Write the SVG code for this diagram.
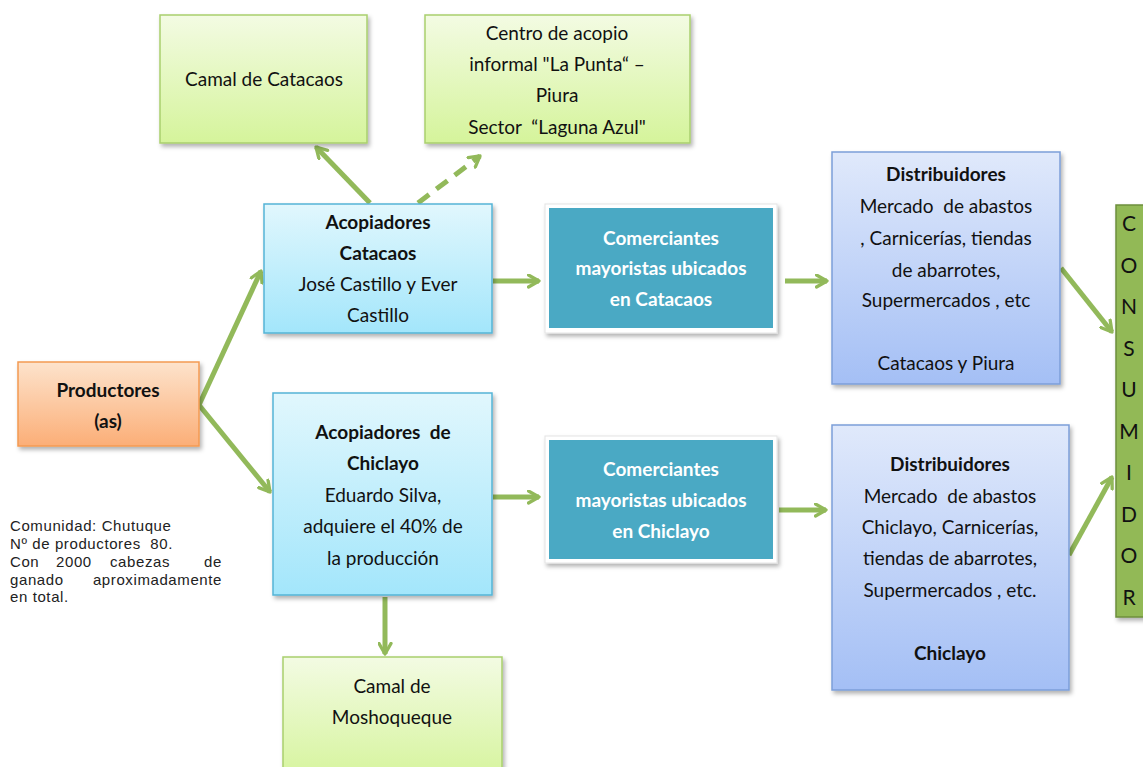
<svg xmlns="http://www.w3.org/2000/svg" width="1143" height="767" viewBox="0 0 1143 767">
<defs>
<linearGradient id="gGreen" x1="0" y1="0" x2="0" y2="1"><stop offset="0" stop-color="#f3fbe3"/><stop offset="1" stop-color="#d5f49b"/></linearGradient>
<linearGradient id="gBlue" x1="0" y1="0" x2="0" y2="1"><stop offset="0" stop-color="#e1f7fd"/><stop offset="1" stop-color="#a3e6fb"/></linearGradient>
<linearGradient id="gDist" x1="0" y1="0" x2="0" y2="1"><stop offset="0" stop-color="#e0e9fb"/><stop offset="1" stop-color="#a4bff5"/></linearGradient>
<linearGradient id="gOrange" x1="0" y1="0" x2="0" y2="1"><stop offset="0" stop-color="#fde3cc"/><stop offset="1" stop-color="#fbae77"/></linearGradient>
<filter id="sh" x="-10%" y="-10%" width="125%" height="125%"><feDropShadow dx="2" dy="3" stdDeviation="2" flood-color="#000" flood-opacity="0.3"/></filter>
<marker id="ah" viewBox="0 0 10 10" refX="8" refY="5" markerWidth="3" markerHeight="3" orient="auto" markerUnits="strokeWidth">
<path d="M1,1 L8,5 L1,9" fill="none" stroke="#92b95a" stroke-width="2.2" stroke-linecap="round" stroke-linejoin="round"/>
</marker>
</defs>
<style>
.t{font-family:Lato,"Open Sans",sans-serif;font-size:19px;fill:#111;text-anchor:middle;white-space:pre}
.b{font-weight:bold}
.w{fill:#fff;font-weight:bold}
.c{stroke:#92b95a;stroke-width:5;fill:none;marker-end:url(#ah)}
.grn{fill:url(#gGreen);stroke:#a9cf6e;stroke-width:1.5}
.blu{fill:url(#gBlue);stroke:#55b4d6;stroke-width:1.5}
.dst{fill:url(#gDist);stroke:#7c9ed9;stroke-width:1.5}
.org{fill:url(#gOrange);stroke:#f49a52;stroke-width:1.5}
.note{font-family:"Liberation Sans",Arial,sans-serif;font-size:15px;fill:#222;white-space:pre;letter-spacing:0.6px}
.r{text-anchor:end}
.cons{font-family:Lato,"Open Sans",sans-serif;font-size:21px;fill:#111;text-anchor:middle}
</style>

<g id="connectors">
<line class="c" x1="199" y1="405" x2="261" y2="271"/>
<line class="c" x1="199" y1="405" x2="270" y2="492"/>
<line class="c" x1="370" y1="203" x2="316" y2="147"/>
<line class="c" x1="418" y1="203" x2="480" y2="156" stroke-dasharray="14,9"/>
<line class="c" x1="493" y1="281" x2="539" y2="281"/>
<line class="c" x1="785" y1="281" x2="827" y2="281"/>
<line class="c" x1="493" y1="497" x2="539" y2="497"/>
<line class="c" x1="779" y1="510" x2="826" y2="510"/>
<line class="c" x1="385" y1="597" x2="385" y2="654"/>
<line class="c" x1="1061" y1="268" x2="1112" y2="332"/>
<line class="c" x1="1069" y1="555" x2="1112" y2="477"/>
</g>

<g id="camal-catacaos">
<rect class="grn" x="160" y="15" width="207" height="128" filter="url(#sh)"/>
<text class="t" x="264" y="86">Camal de Catacaos</text>
</g>

<g id="centro-acopio">
<rect class="grn" x="425" y="15" width="265" height="128" filter="url(#sh)"/>
<text class="t" x="557" y="40">Centro de acopio</text>
<text class="t" x="557" y="71">informal "La Punta“ –</text>
<text class="t" x="557" y="102">Piura</text>
<text class="t" x="557" y="134">Sector  “Laguna Azul"</text>
</g>

<g id="acopiadores-catacaos">
<rect class="blu" x="264" y="204" width="228" height="129" filter="url(#sh)"/>
<text class="t b" x="378" y="229">Acopiadores</text>
<text class="t b" x="378" y="260">Catacaos</text>
<text class="t" x="378" y="291">José Castillo y Ever</text>
<text class="t" x="378" y="322">Castillo</text>
</g>

<g id="comerciantes-catacaos">
<rect x="545" y="204" width="232" height="129" fill="#fff" stroke="#e4e4e4" filter="url(#sh)"/>
<rect x="549" y="208" width="224" height="120" fill="#4aa9c4"/>
<text class="t w" x="661" y="245">Comerciantes</text>
<text class="t w" x="661" y="275">mayoristas ubicados</text>
<text class="t w" x="661" y="306">en Catacaos</text>
</g>

<g id="distribuidores-catacaos">
<rect class="dst" x="832" y="152" width="228" height="232" filter="url(#sh)"/>
<text class="t b" x="946" y="181">Distribuidores</text>
<text class="t" x="946" y="213">Mercado  de abastos</text>
<text class="t" x="946" y="245">, Carnicerías, tiendas</text>
<text class="t" x="946" y="277">de abarrotes,</text>
<text class="t" x="946" y="307">Supermercados , etc</text>
<text class="t" x="946" y="370">Catacaos y Piura</text>
</g>

<g id="consumidor">
<rect x="1116" y="205" width="40" height="412" fill="#92b957" stroke="#6e8f3c" stroke-width="1.5" filter="url(#sh)"/>
<text class="cons" x="1129" y="231">C</text>
<text class="cons" x="1129" y="273">O</text>
<text class="cons" x="1129" y="314">N</text>
<text class="cons" x="1129" y="356">S</text>
<text class="cons" x="1129" y="397">U</text>
<text class="cons" x="1129" y="439">M</text>
<text class="cons" x="1129" y="480">I</text>
<text class="cons" x="1129" y="522">D</text>
<text class="cons" x="1129" y="563">O</text>
<text class="cons" x="1129" y="605">R</text>
</g>

<g id="productores">
<rect class="org" x="18" y="362" width="181" height="84" filter="url(#sh)"/>
<text class="t b" x="108" y="397">Productores</text>
<text class="t b" x="108" y="428">(as)</text>
</g>

<g id="acopiadores-chiclayo">
<rect class="blu" x="273" y="393" width="219" height="202" filter="url(#sh)"/>
<text class="t b" x="383" y="439">Acopiadores  de</text>
<text class="t b" x="383" y="470">Chiclayo</text>
<text class="t" x="383" y="502">Eduardo Silva,</text>
<text class="t" x="383" y="533">adquiere el 40% de</text>
<text class="t" x="383" y="565">la producción</text>
</g>

<g id="comerciantes-chiclayo">
<rect x="545" y="436" width="232" height="127" fill="#fff" stroke="#e4e4e4" filter="url(#sh)"/>
<rect x="549" y="440" width="224" height="119" fill="#4aa9c4"/>
<text class="t w" x="661" y="476">Comerciantes</text>
<text class="t w" x="661" y="507">mayoristas ubicados</text>
<text class="t w" x="661" y="538">en Chiclayo</text>
</g>

<g id="distribuidores-chiclayo">
<rect class="dst" x="832" y="425" width="237" height="265" filter="url(#sh)"/>
<text class="t b" x="950" y="471">Distribuidores</text>
<text class="t" x="950" y="503">Mercado  de abastos</text>
<text class="t" x="950" y="534">Chiclayo, Carnicerías,</text>
<text class="t" x="950" y="565">tiendas de abarrotes,</text>
<text class="t" x="950" y="597">Supermercados , etc.</text>
<text class="t b" x="950" y="660">Chiclayo</text>
</g>

<g id="camal-moshoqueque">
<rect class="grn" x="283" y="657" width="219" height="125" filter="url(#sh)"/>
<text class="t" x="392" y="693">Camal de</text>
<text class="t" x="392" y="724">Moshoqueque</text>
</g>

<g id="nota">
<text class="note" x="10" y="531">Comunidad: Chutuque</text>
<text class="note" x="10" y="549">Nº de productores  80.</text>
<text class="note" y="567"><tspan x="10">Con</tspan><tspan x="56">2000</tspan><tspan x="110">cabezas</tspan><tspan x="222" class="r">de</tspan></text>
<text class="note" y="585"><tspan x="10">ganado</tspan><tspan x="222" class="r">aproximadamente</tspan></text>
<text class="note" x="10" y="602">en total.</text>
</g>
</svg>
